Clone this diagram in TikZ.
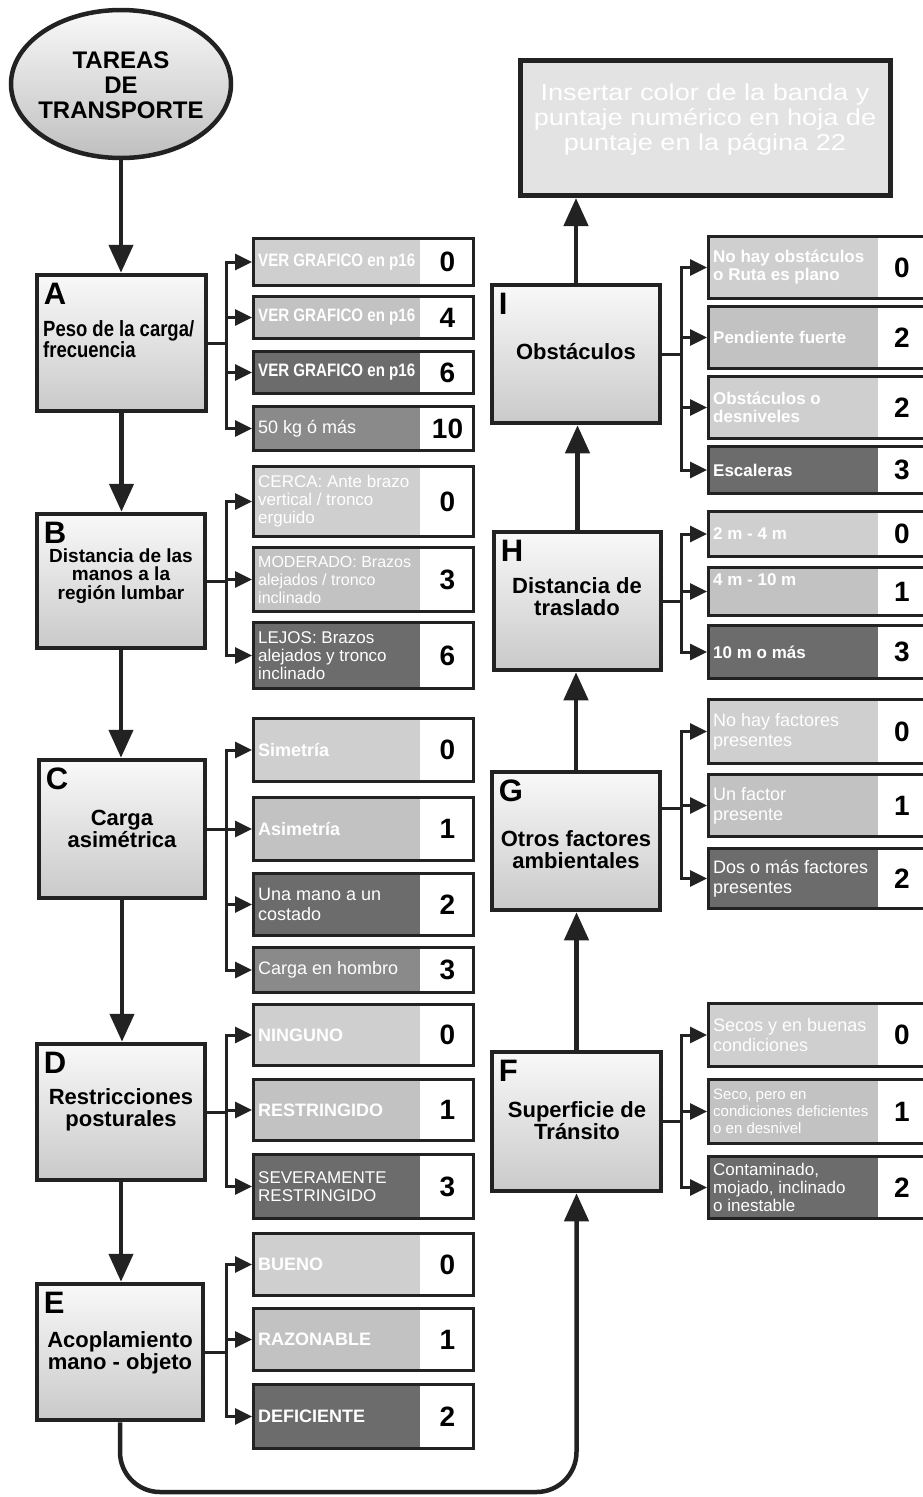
\documentclass[tikz,border=0pt]{standalone}
\usepackage{fontspec}
\setmainfont{Liberation Sans}
\newfontfamily\condfont[FakeStretch=0.84]{Liberation Sans}
\newfontfamily\widefont[FakeStretch=1.18]{Liberation Sans}
\usetikzlibrary{arrows.meta,shapes.geometric}
\definecolor{ink}{HTML}{222222}
\definecolor{bandL}{HTML}{CFCFCF}
\definecolor{bandM}{HTML}{C2C2C2}
\definecolor{bandS}{HTML}{8A8A8A}
\definecolor{bandD}{HTML}{6C6C6C}
\definecolor{topfill}{HTML}{E3E3E3}
\def\optfont{}
\tikzset{
  mainbox/.style={draw=ink, line width=4.5pt, top color=gray!5, bottom color=gray!42, inner sep=0pt},
  optframe/.style={draw=ink, line width=3pt, fill=white, inner sep=0pt},
  opttext/.style={text=white, align=left, inner sep=0pt, font=\fontsize{17}{18}\selectfont\optfont},
  numtext/.style={text=black, inner sep=0pt, font=\fontsize{28}{28}\selectfont\bfseries},
  lettertext/.style={text=black, inner sep=0pt, font=\fontsize{31}{31}\selectfont\bfseries},
  bodytext/.style={text=black, align=center, inner sep=0pt, font=\fontsize{22}{22}\selectfont\bfseries},
  mainarrow/.style={draw=ink, line width=4.5pt, -{Triangle[length=28pt,width=24pt]}},
  optarrow/.style={draw=ink, line width=3pt, -{Triangle[length=17pt,width=16pt]}},
  topbox/.style={draw=ink, line width=5pt, fill=topfill, inner sep=0pt},
}
\newcommand\mainnode[5]{%
  \node[mainbox, minimum width={(#4)-(#2)-4}, minimum height={(#5)-(#3)-4}] (#1) at ({((#2)+(#4))/2},{((#3)+(#5))/2}) {};
  \node[lettertext, anchor=north west] (#1L) at ([xshift=9pt,yshift=-10pt]#1.north west) {#1};
}
\newcommand\optrow[9]{%
  \node[optframe, minimum width={(#4)-(#2)-3}, minimum height={(#6)-(#5)-3}] (#1) at ({((#2)+(#4))/2},{((#5)+(#6))/2}) {};
  \fill[#7] ({(#2)+3},{(#5)+3}) rectangle ({#3},{(#6)-3});
  \node[opttext, anchor=west] (#1t) at ({(#2)+6},{((#5)+(#6))/2}) {#8};
  \node[numtext] (#1n) at ({((#3)+(#4))/2},{((#5)+(#6))/2}) {#9};
}
\newcommand\optL[7][]{\def\optfont{#1}\optrow{#2}{252}{420}{475}{#3}{#4}{#5}{#6}{#7}}
\newcommand\optR[7][]{\def\optfont{#1}\optrow{#2}{707}{878}{926}{#3}{#4}{#5}{#6}{#7}}
\begin{document}
\begin{tikzpicture}[x=1pt,y=-1pt]
\useasboundingbox (0,0) rectangle (922,1497);
% start ellipse
\node[ellipse, draw=ink, line width=4.5pt, minimum width=220, minimum height=148, top color=gray!5, bottom color=gray!50, inner sep=0pt] (T) at (121,84) {};
\node[font=\fontsize{24}{25}\selectfont\bfseries, align=center, inner sep=0pt] (Tt) at (121,85) {TAREAS\\DE\\TRANSPORTE};
% result box
\node[topbox, minimum width=370, minimum height=135] (R) at (705.5,128) {};
\node[text=white, align=center, inner sep=0pt, font=\widefont\fontsize{23}{25}\selectfont] (Rt) at (705,120) {Insertar color de la banda y\\puntaje numérico en hoja de\\puntaje en la página 22};
% main boxes
\mainnode{A}{35}{273}{208}{413}
\mainnode{B}{35}{512}{207}{650}
\mainnode{C}{37}{758}{207}{900}
\mainnode{D}{35}{1042}{207}{1182}
\mainnode{E}{35}{1282}{205}{1422}
\mainnode{F}{490}{1050}{663}{1193}
\mainnode{G}{490}{770}{662}{912}
\mainnode{H}{492}{530}{663}{672}
\mainnode{I}{490}{283}{662}{425}
\node[bodytext, font=\condfont\fontsize{22}{21}\selectfont\bfseries, align=left, anchor=west] (AT) at (43,339) {Peso de la carga/\\frecuencia};
\node[bodytext, font=\fontsize{19}{18.5}\selectfont\bfseries] (BT) at (121,576) {Distancia de las\\manos a la\\región lumbar};
\node[bodytext] (CT) at (122,829) {Carga\\asimétrica};
\node[bodytext] (DT) at (121,1110) {Restricciones\\posturales};
\node[bodytext] (ET) at (120,1353) {Acoplamiento\\mano - objeto};
\node[bodytext] (FT) at (577,1121) {Superficie de\\Tránsito};
\node[bodytext] (GT) at (576,850) {Otros factores\\ambientales};
\node[bodytext] (HT) at (577,597) {Distancia de\\traslado};
\node[bodytext] (IT) at (576,352) {Obstáculos};
% options left
\optL[\condfont\bfseries\fontsize{18}{20}\selectfont]{a1}{237}{287}{bandL}{VER GRAFICO en p16}{0}
\optL[\condfont\bfseries\fontsize{18}{20}\selectfont]{a2}{295}{340}{bandM}{VER GRAFICO en p16}{4}
\optL[\condfont\bfseries\fontsize{18}{20}\selectfont]{a3}{350}{395}{bandD}{VER GRAFICO en p16}{6}
\optL[\fontsize{18}{20}\selectfont]{a4}{405}{452}{bandS}{50 kg ó más}{10}
\optL{b1}{465}{538}{bandL}{CERCA: Ante brazo\\vertical / tronco\\erguido}{0}
\optL[\fontsize{16}{18}\selectfont]{b2}{546}{613}{bandM}{MODERADO: Brazos\\alejados / tronco\\inclinado}{3}
\optL{b3}{621}{690}{bandD}{LEJOS: Brazos\\alejados y tronco\\inclinado}{6}
\optL[\fontsize{18}{20}\selectfont\bfseries]{c1}{717}{783}{bandL}{Simetría}{0}
\optL[\fontsize{18}{20}\selectfont\bfseries]{c2}{796}{862}{bandM}{Asimetría}{1}
\optL[\fontsize{18}{20}\selectfont]{c3}{872}{937}{bandD}{Una mano a un\\costado}{2}
\optL[\fontsize{18}{20}\selectfont]{c4}{946}{994}{bandS}{Carga en hombro}{3}
\optL[\fontsize{18}{20}\selectfont\bfseries]{d1}{1003}{1067}{bandL}{NINGUNO}{0}
\optL[\fontsize{18}{20}\selectfont\bfseries]{d2}{1078}{1142}{bandM}{RESTRINGIDO}{1}
\optL{d3}{1153}{1220}{bandD}{SEVERAMENTE\\RESTRINGIDO}{3}
\optL[\fontsize{18}{20}\selectfont\bfseries]{e1}{1232}{1297}{bandL}{BUENO}{0}
\optL[\fontsize{18}{20}\selectfont\bfseries]{e2}{1307}{1372}{bandM}{RAZONABLE}{1}
\optL[\fontsize{18}{20}\selectfont\bfseries]{e3}{1383}{1450}{bandD}{DEFICIENTE}{2}
% options right
\optR[\bfseries]{i1}{235}{300}{bandL}{No hay obstáculos\\o Ruta es plano}{0}
\optR[\bfseries]{i2}{305}{370}{bandM}{Pendiente fuerte}{2}
\optR[\bfseries]{i3}{375}{440}{bandL}{Obstáculos o\\desniveles}{2}
\optR[\bfseries]{i4}{445}{495}{bandD}{Escaleras}{3}
\optR[\bfseries]{h1}{510}{558}{bandL}{2 m - 4 m}{0}
\optR[\bfseries]{h2}{566}{617}{bandM}{4 m - 10 m\\\strut}{1}
\optR[\bfseries]{h3}{624}{680}{bandD}{10 m o más}{3}
\optR[\fontsize{18}{20}\selectfont]{g1}{698}{765}{bandL}{No hay factores\\presentes}{0}
\optR[\fontsize{18}{20}\selectfont]{g2}{773}{838}{bandM}{Un factor\\presente}{1}
\optR[\fontsize{18}{20}\selectfont]{g3}{847}{910}{bandD}{Dos o más factores\\presentes}{2}
\optR[\fontsize{18}{20}\selectfont]{f1}{1002}{1068}{bandL}{Secos y en buenas\\condiciones}{0}
\optR[\fontsize{15}{17}\selectfont]{f2}{1078}{1145}{bandM}{Seco, pero en\\condiciones deficientes\\o en desnivel}{1}
\optR{f3}{1155}{1220}{bandD}{Contaminado,\\mojado, inclinado\\o inestable}{2}
% buses
\coordinate (busL) at (226,0);
\coordinate (busR) at (681,0);
\coordinate (Gout) at ([yshift=33pt]G.east);
\foreach \o in {a1,a2,a3,a4} \draw[optarrow] (A.east) -- (A.east -| busL) |- (\o.west);
\foreach \o in {b1,b2,b3} \draw[optarrow] (B.east) -- (B.east -| busL) |- (\o.west);
\foreach \o in {c1,c2,c3,c4} \draw[optarrow] (C.east) -- (C.east -| busL) |- (\o.west);
\foreach \o in {d1,d2,d3} \draw[optarrow] (D.east) -- (D.east -| busL) |- (\o.west);
\foreach \o in {e1,e2,e3} \draw[optarrow] (E.east) -- (E.east -| busL) |- (\o.west);
\foreach \o in {i1,i2,i3,i4} \draw[optarrow] (I.east) -- (I.east -| busR) |- (\o.west);
\foreach \o in {h1,h2,h3} \draw[optarrow] (H.east) -- (H.east -| busR) |- (\o.west);
\foreach \o in {g1,g2,g3} \draw[optarrow] (Gout) -- (Gout -| busR) |- (\o.west);
\foreach \o in {f1,f2,f3} \draw[optarrow] (F.east) -- (F.east -| busR) |- (\o.west);
% main flow
\coordinate (bottomline) at (0,1492);
\draw[mainarrow] (T.south) -- (T.south |- A.north);
\draw[mainarrow] (A.south) -- (A.south |- B.north);
\draw[mainarrow] (B.south) -- (B.south |- C.north);
\draw[mainarrow] (C.south) -- (C.south |- D.north);
\draw[mainarrow] (D.south) -- (D.south |- E.north);
\draw[mainarrow, rounded corners=40pt] (E.south) -- (E.south |- bottomline) -- (F.south |- bottomline) -- (F.south);
\draw[mainarrow] (F.north) -- (F.north |- G.south);
\draw[mainarrow] (G.north) -- (G.north |- H.south);
\draw[mainarrow] (H.north) -- (H.north |- I.south);
\draw[mainarrow] (I.north) -- (I.north |- R.south);
\end{tikzpicture}
\end{document}
